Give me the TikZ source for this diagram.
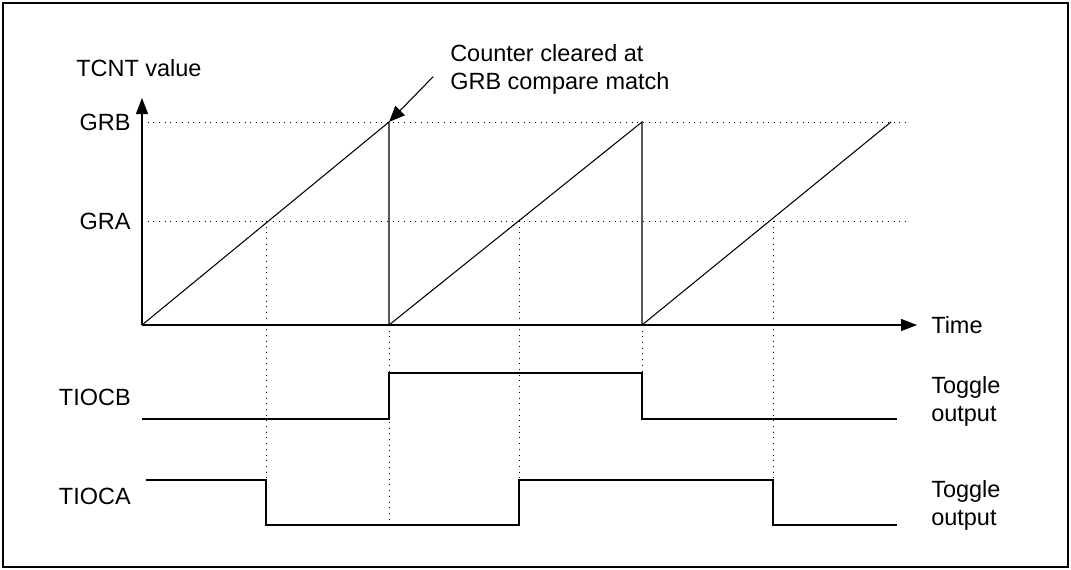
\documentclass[tikz,border=0pt]{standalone}
\usepackage{fontspec}
\setmainfont{Liberation Sans}
\usepackage{tikz}
\usetikzlibrary{arrows.meta, positioning, calc}

\begin{document}
\begin{tikzpicture}[
    x=0.025cm, y=-0.025cm,
    lbl/.style={inner sep=0pt, font=\fontsize{16.7}{19.9}\selectfont, text=black},
    axis/.style={line width=0.9pt, -{Triangle[length=0.4cm, width=0.3cm]}},
    wave/.style={line width=0.75pt},
    guide/.style={line width=0.7pt, dash pattern=on 0.7pt off 3.35pt},
    ptr/.style={line width=0.75pt, -{Triangle[length=0.4cm, width=0.33cm]}}
]
\useasboundingbox (0,0) rectangle (1071,570);
\draw[line width=1.3pt] (3,3) rectangle (1068,567);

% axes and compare levels
\coordinate (o) at (142,325);
\coordinate (grb) at (142,122);
\coordinate (gra) at (142,221);
\draw[axis] (o) -- (142,98) coordinate (ytip);
\draw[axis] (o) -- (917,325) coordinate (xtip);
\draw[guide] (grb) -- (909,122);
\draw[guide] (gra) -- (909,221);

\node[lbl, anchor=base west] (tcnt) at (76,77) {TCNT value};
\node[lbl, left=0.28cm of grb] (grblbl) {GRB};
\node[lbl, left=0.28cm of gra] (gralbl) {GRA};
\node[lbl, right=0.35cm of xtip] (time) {Time};

% counter sawtooth
\draw[wave] (o) -- (389,122) coordinate (pk1) -- (389,325) coordinate (clr1)
    -- (642,122) coordinate (pk2) -- (642,325) coordinate (clr2) -- (891,122);

% compare match guides
\draw[guide] (266,221) -- (266,480);
\draw[guide] (clr1) -- (389,525);
\draw[guide] (519,221) -- (519,480);
\draw[guide] (clr2) -- (642,373);
\draw[guide] (773,221) -- (773,480);

% outputs
\node[lbl, anchor=base east] (tiocb) at (131,405) {TIOCB};
\node[lbl, anchor=base east] (tioca) at (131,504) {TIOCA};
\draw[wave] (142,419) -- (389,419) -- (389,373) -- (642,373) -- (642,419) -- (897,419);
\draw[wave] (146,480) -- (266,480) -- (266,525) -- (519,525) -- (519,480) -- (773,480) -- (773,525) -- (897,525);
\node[lbl, align=left, anchor=west] (togb) at (931,401) {Toggle\\output};
\node[lbl, align=left, anchor=west] (toga) at (931,505) {Toggle\\output};

\node[lbl, align=left, anchor=west] (clr) at (450,69) {Counter cleared at\\GRB compare match};
\draw[ptr] ([xshift=-0.42cm, yshift=-0.19cm]clr.west) -- (pk1);
\end{tikzpicture}
\end{document}
